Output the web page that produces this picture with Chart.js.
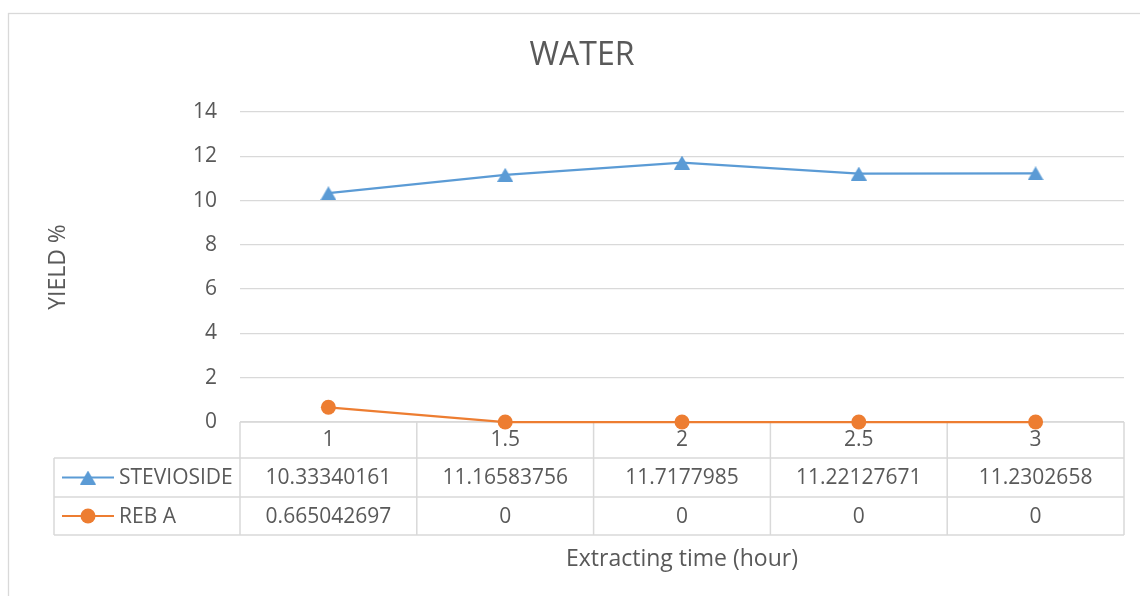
<!DOCTYPE html>
<html>
<head>
<meta charset="utf-8">
<script src="https://cdn.jsdelivr.net/npm/chart.js@4"></script>
<style>
html,body{margin:0;padding:0;background:#fff;}
#c{display:block;}
</style>
</head>
<body>
<canvas id="c" width="1140" height="596"></canvas>
<script>
// ---- data ----
const categories = ['1', '1.5', '2', '2.5', '3'];
const steviosideValues = [10.33340161, 11.16583756, 11.7177985, 11.22127671, 11.2302658];
const rebAValues = [0.665042697, 0, 0, 0, 0];
const seriesNames = ['STEVIOSIDE', 'REB A'];
const yTicks = {min: 0, max: 14, step: 2};
const chartTitle = 'WATER';
const yTitle = 'YIELD %';
const xTitle = 'Extracting time (hour)';

// ---- style ----
const FONT = '"Open Sans", "Liberation Sans", sans-serif';
const TXT = '#595959';
const GRID = '#d9d9d9';
const BLUE = '#5b9bd5';
const ORANGE = '#ed7d31';

function triangleCanvas(w, h, color) {
  const c = document.createElement('canvas');
  c.width = w; c.height = h;
  const g = c.getContext('2d');
  g.fillStyle = color;
  g.beginPath();
  g.moveTo(w / 2, 0);
  g.lineTo(w, h);
  g.lineTo(0, h);
  g.closePath();
  g.fill();
  return c;
}
const triImg = triangleCanvas(16, 14, BLUE);

const frame = {
  id: 'frame',
  beforeDraw(chart) {
    const ctx = chart.ctx;
    ctx.save();
    ctx.strokeStyle = GRID;
    ctx.lineWidth = 1.3;
    ctx.strokeRect(8.5, 13.5, 1200, 700);
    ctx.restore();
  }
};

const dataTable = {
  id: 'dataTable',
  beforeDatasetsDraw(chart) {
    const {ctx, chartArea, scales} = chart;
    const x = scales.x;
    const n = categories.length;
    const left = chartArea.left, right = chartArea.right, top = chartArea.bottom;
    const tableLeft = 54;
    const headerH = 36, rowH = [39, 38];
    const rowsY = [top + headerH, top + headerH + rowH[0], top + headerH + rowH[0] + rowH[1]];
    const bounds = [left];
    for (let i = 0; i < n - 1; i++) {
      bounds.push((x.getPixelForTick(i) + x.getPixelForTick(i + 1)) / 2);
    }
    bounds.push(right);

    ctx.save();
    ctx.strokeStyle = GRID;
    ctx.lineWidth = 1.5;
    ctx.beginPath();
    bounds.forEach(b => { ctx.moveTo(b, top); ctx.lineTo(b, rowsY[2]); });
    ctx.moveTo(tableLeft, rowsY[0]); ctx.lineTo(tableLeft, rowsY[2]);
    ctx.moveTo(left, top); ctx.lineTo(right, top);
    rowsY.forEach(y => { ctx.moveTo(tableLeft, y); ctx.lineTo(right, y); });
    ctx.stroke();

    const series = [
      {name: seriesNames[0], values: steviosideValues, color: BLUE, marker: 'tri'},
      {name: seriesNames[1], values: rebAValues, color: ORANGE, marker: 'circle'}
    ];
    ctx.font = '21px ' + FONT;
    ctx.fillStyle = TXT;
    ctx.textBaseline = 'middle';
    series.forEach((s, r) => {
      const y0 = r === 0 ? rowsY[0] : rowsY[1];
      const y1 = r === 0 ? rowsY[1] : rowsY[2];
      const cy = (y0 + y1) / 2;
      ctx.strokeStyle = s.color;
      ctx.lineWidth = 2;
      ctx.beginPath();
      ctx.moveTo(62, cy); ctx.lineTo(114, cy);
      ctx.stroke();
      if (s.marker === 'tri') {
        ctx.drawImage(triImg, 88 - 8, cy - 7);
      } else {
        ctx.fillStyle = s.color;
        ctx.beginPath();
        ctx.arc(88, cy, 7.5, 0, Math.PI * 2);
        ctx.fill();
      }
      ctx.fillStyle = TXT;
      ctx.textAlign = 'left';
      ctx.fillText(s.name, 119, cy + 1);
      ctx.textAlign = 'center';
      s.values.forEach((v, i) => {
        ctx.fillText(String(v), x.getPixelForTick(i), cy + 1);
      });
    });
    ctx.restore();
  }
};

new Chart(document.getElementById('c'), {
  type: 'line',
  data: {
    labels: categories,
    datasets: [
      {
        label: seriesNames[0],
        data: steviosideValues,
        borderColor: BLUE,
        backgroundColor: BLUE,
        borderWidth: 2.25,
        pointStyle: triImg,
        pointRadius: 8,
        clip: false,
        tension: 0
      },
      {
        label: seriesNames[1],
        data: rebAValues,
        borderColor: ORANGE,
        backgroundColor: ORANGE,
        borderWidth: 2.25,
        pointStyle: 'circle',
        pointRadius: 7.5,
        pointBorderWidth: 0,
        clip: false,
        tension: 0
      }
    ]
  },
  options: {
    responsive: false,
    animation: false,
    layout: {padding: {left: 40, right: 16, top: 0, bottom: 0}},
    plugins: {
      legend: {display: false},
      tooltip: {enabled: false},
      title: {
        display: true,
        text: chartTitle,
        color: TXT,
        font: {family: FONT, size: 32, weight: 'normal'},
        padding: {top: 36.5, bottom: 37.1}
      }
    },
    scales: {
      x: {
        type: 'category',
        offset: true,
        grid: {display: false, drawTicks: false},
        border: {display: false},
        ticks: {color: TXT, font: {family: FONT, size: 21}, padding: 5, maxRotation: 0, autoSkip: false},
        title: {display: true, text: xTitle, color: TXT, font: {family: FONT, size: 23}, padding: {top: 0, bottom: 23}},
        afterFit(s) { s.height = 174; }
      },
      y: {
        min: yTicks.min,
        max: yTicks.max,
        grid: {color: GRID, lineWidth: 1.3, drawTicks: false},
        border: {display: false},
        ticks: {stepSize: yTicks.step, color: TXT, font: {family: FONT, size: 21}, padding: 23},
        title: {display: true, text: yTitle, color: TXT, font: {family: FONT, size: 23}, padding: {top: 5, bottom: 0}},
        afterFit(s) { s.width = 200; }
      }
    }
  },
  plugins: [frame, dataTable]
});
</script>
</body>
</html>
